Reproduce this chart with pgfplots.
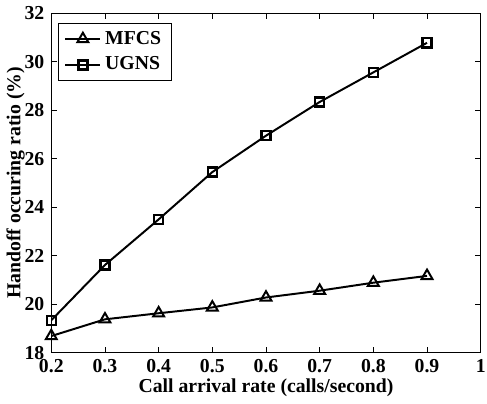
\documentclass[border=0pt]{standalone}
\usepackage{fontspec}
\setmainfont{Liberation Serif}
\usepackage{pgfplots}
\pgfplotsset{compat=1.18}
\begin{document}
\fontsize{10pt}{12pt}\selectfont\bfseries
\begin{tikzpicture}
\begin{axis}[
  name=ax,
  scale only axis,
  width=217.5pt, height=172pt,
  xmin=0.2, xmax=1, ymin=18, ymax=32,
  xtick={0.2,0.3,0.4,0.5,0.6,0.7,0.8,0.9,1},
  xticklabels={0.2,0.3,0.4,0.5,0.6,0.7,0.8,0.9,1},
  ytick={18,20,22,24,26,28,30,32},
  /pgf/number format/assume math mode=true,
  tick align=inside,
  tick style={black, thin},
  major tick length=3pt,
  axis line style={black, thin},
  xlabel={Call arrival rate (calls/second)},
  ylabel={Handoff occuring ratio (\%)},
  xlabel style={yshift=4pt},
  ylabel style={yshift=-7pt},
  tick label style={font=\fontsize{10pt}{12pt}\selectfont\bfseries},
  label style={font=\fontsize{10pt}{12pt}\selectfont\bfseries},
  legend style={draw=black, thin, font=\fontsize{10pt}{12pt}\selectfont\bfseries, row sep=1pt, at={(0.016,0.972)}, anchor=north west, inner xsep=3pt},
  legend cell align=left,
  legend image code/.code={\draw[#1] (0cm,0cm) -- (0.62cm,0cm); \draw[#1, mark repeat=2, mark phase=2] plot coordinates {(0cm,0cm) (0.31cm,0cm) (0.62cm,0cm)};},
]
\addplot[black, line width=1pt, mark=triangle, mark size=3.2pt, mark options={solid, line width=1pt}] coordinates {
(0.2,18.69) (0.3,19.38) (0.4,19.63) (0.5,19.87) (0.6,20.28) (0.7,20.56) (0.8,20.89) (0.9,21.17)};
\addlegendentry{MFCS}
\addplot[black, line width=1pt, mark=square, mark size=2.3pt, mark options={solid, line width=1.2pt}] coordinates {
(0.2,19.34) (0.3,21.62) (0.4,23.5) (0.5,25.45) (0.6,26.95) (0.7,28.34) (0.8,29.56) (0.9,30.78)};
\addlegendentry{UGNS}
\end{axis}
\pgfresetboundingbox
\path (ax.outer south west) rectangle ([xshift=3.2pt]ax.south east |- ax.outer north);
\end{tikzpicture}
\end{document}
